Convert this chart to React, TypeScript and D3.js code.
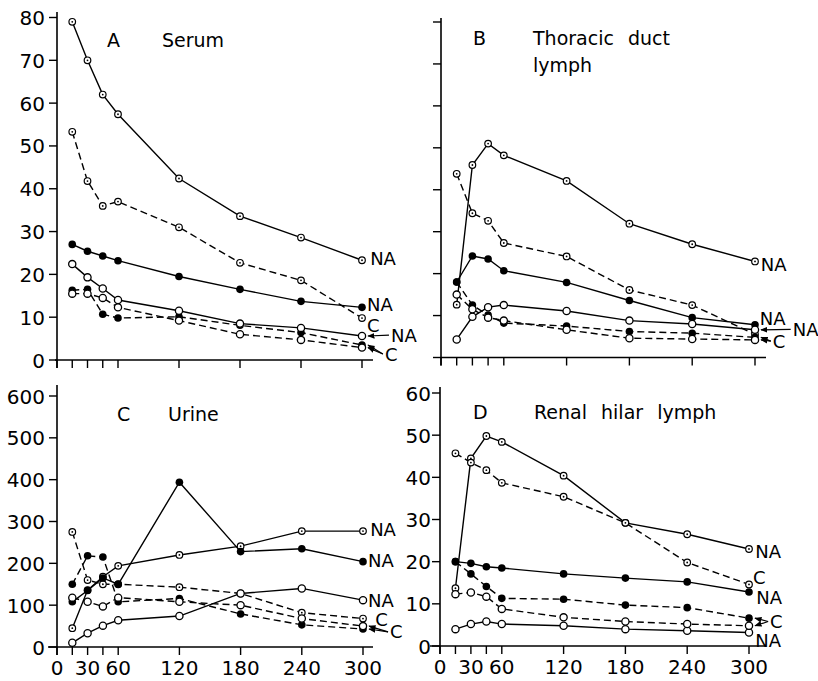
import React from 'react';
import * as d3 from 'd3';

const minutes = [15, 30, 45, 60, 120, 180, 240, 300];
const xTickValues = [0, 15, 30, 45, 60, 120, 180, 240, 300];
const xTickLabels = [0, 30, 60, 120, 180, 240, 300];

// A  Serum
const serumNA1 = [79, 70, 62, 57.4, 42.4, 33.6, 28.6, 23.3];
const serumC1 = [53.3, 41.8, 36, 37, 31, 22.7, 18.6, 9.8];
const serumNA2 = [27, 25.4, 24.3, 23.2, 19.5, 16.5, 13.7, 12.3];
const serumC2 = [16.3, 16.5, 10.7, 9.8, 10.1, 8.1, 6.4, 3.5];
const serumNA3 = [22.4, 19.3, 16.7, 14, 11.5, 8.5, 7.5, 5.6];
const serumC3 = [15.5, 15.5, 14.5, 12.3, 9.2, 6, 4.7, 2.9];

// B  Thoracic duct lymph
const tdNA1 = [12.6, 45.9, 51, 48.2, 42.1, 31.9, 27, 22.9];
const tdC1 = [43.8, 34.4, 32.6, 27.3, 24.1, 16.1, 12.5, 5.5];
const tdNA2 = [18, 24.2, 23.5, 20.7, 17.9, 13.6, 9.5, 7.8];
const tdC2 = [18, 12.5, 10.1, 8.2, 7.5, 6.2, 5.8, 4.8];
const tdNA3 = [4.3, 9.7, 12.0, 12.5, 11.1, 8.8, 8.0, 6.6];
const tdC3 = [15, 11.5, 9.5, 8.8, 6.6, 4.6, 4.4, 4.2];

// C  Urine
const urineNA1 = [45, 136, 168, 194, 220, 241, 277, 277];
const urineC1 = [275, 160, 150, 150, 143, 128, 82, 68];
const urineNA2 = [108, 135, 165, 150, 394, 228, 235, 204];
const urineC2 = [150, 218, 215, 108, 116, 79, 53, 43];
const urineNA3 = [10, 33, 51, 64, 74, 128, 140, 112];
const urineC3 = [118, 108, 97, 118, 108, 100, 68, 50];

// D  Renal hilar lymph
const rhNA1 = [13.7, 44.5, 49.8, 48.4, 40.4, 29.2, 26.5, 23];
const rhC1 = [45.7, 43.5, 41.7, 38.7, 35.4, 29.2, 19.8, 14.6];
const rhNA2 = [20, 19.6, 18.8, 18.5, 17.1, 16.1, 15.2, 12.8];
const rhC2 = [20, 17.1, 14.1, 11.3, 11.1, 9.7, 9.1, 6.6];
const rhNA3 = [4.0, 5.2, 5.8, 5.2, 4.8, 4.0, 3.6, 3.2];
const rhC3 = [12.3, 12.7, 11.7, 8.8, 6.8, 5.8, 5.2, 4.8];

type Marker = 'dot' | 'filled' | 'open';
const seriesStyles: { dashed: boolean; marker: Marker }[] = [
  { dashed: false, marker: 'dot' },
  { dashed: true, marker: 'dot' },
  { dashed: false, marker: 'filled' },
  { dashed: true, marker: 'filled' },
  { dashed: false, marker: 'open' },
  { dashed: true, marker: 'open' },
];

type Label = { text: string; x: number; y: number; arrows?: number[] };

const panels = [
  {
    id: 'A', letter: 'A', title: ['Serum'], letterX: 107, titleX: 162, titleY: 47,
    data: [serumNA1, serumC1, serumNA2, serumC2, serumNA3, serumC3],
    yMax: 80, yStep: 10, xr: [57, 362], yr: [360, 17.5], yTop: 12, xStart: 55, xEnd: 373,
    yLabels: true, yLabelX: 45, xLabels: false,
    labels: [
      { text: 'NA', x: 308, y: 23.6 },
      { text: 'NA', x: 305, y: 12.9 },
      { text: 'C', x: 305, y: 8.1 },
      { text: 'NA', x: 328.5, y: 5.8, arrows: [4] },
      { text: 'C', x: 322.5, y: 1.4, arrows: [3, 5] },
    ] as Label[],
  },
  {
    id: 'B', letter: 'B', title: ['Thoracic duct', 'lymph'], letterX: 473, titleX: 533, titleY: 45,
    data: [tdNA1, tdC1, tdNA2, tdC2, tdNA3, tdC3],
    yMax: 80, yStep: 10, xr: [441, 755], yr: [357.5, 22], yTop: 18, xStart: 441, xEnd: 766,
    yLabels: false, yLabelX: 430, xLabels: false,
    labels: [
      { text: 'NA', x: 305.5, y: 22.2 },
      { text: 'NA', x: 304.5, y: 9.3 },
      { text: 'NA', x: 336, y: 6.7, arrows: [4] },
      { text: 'C', x: 317, y: 3.9, arrows: [3, 5] },
    ] as Label[],
  },
  {
    id: 'C', letter: 'C', title: ['Urine'], letterX: 117, titleX: 168, titleY: 421,
    data: [urineNA1, urineC1, urineNA2, urineC2, urineNA3, urineC3],
    yMax: 600, yStep: 100, xr: [57, 363], yr: [647, 396], yTop: 385, xStart: 48, xEnd: 373,
    yLabels: true, yLabelX: 45, xLabels: true,
    labels: [
      { text: 'NA', x: 307, y: 280 },
      { text: 'NA', x: 305, y: 207 },
      { text: 'NA', x: 305, y: 112 },
      { text: 'C', x: 312, y: 66 },
      { text: 'C', x: 326.5, y: 36, arrows: [3, 5] },
    ] as Label[],
  },
  {
    id: 'D', letter: 'D', title: ['Renal hilar lymph'], letterX: 473, titleX: 534, titleY: 419,
    data: [rhNA1, rhC1, rhNA2, rhC2, rhNA3, rhC3],
    yMax: 60, yStep: 10, xr: [440, 749], yr: [646, 393], yTop: 387, xStart: 430, xEnd: 766,
    yLabels: true, yLabelX: 431, xLabels: true,
    labels: [
      { text: 'NA', x: 306, y: 22.4 },
      { text: 'C', x: 304, y: 16.2 },
      { text: 'NA', x: 307, y: 11.6 },
      { text: 'C', x: 320.5, y: 5.8, arrows: [3, 5] },
      { text: 'NA', x: 306, y: 1.4 },
    ] as Label[],
  },
];

const FONT = 'DejaVu Sans, Liberation Sans, sans-serif';

function PointMarker({ cx, cy, type }: { cx: number; cy: number; type: Marker }) {
  if (type === 'filled') return <circle cx={cx} cy={cy} r={3.8} fill="#000" />;
  if (type === 'open')
    return <circle cx={cx} cy={cy} r={3.6} fill="#fff" stroke="#000" strokeWidth={1.3} />;
  return (
    <g>
      <circle cx={cx} cy={cy} r={3.3} fill="#fff" stroke="#000" strokeWidth={1.2} />
      <circle cx={cx} cy={cy} r={0.9} fill="#000" />
    </g>
  );
}

function Panel({ p }: { p: (typeof panels)[number] }) {
  const x = d3.scaleLinear().domain([0, 300]).range(p.xr);
  const y = d3.scaleLinear().domain([0, p.yMax]).range(p.yr);
  const yTicks = d3.range(0, p.yMax + 0.001, p.yStep);
  const line = d3
    .line<number>()
    .x((_, i) => x(minutes[i]))
    .y((v) => y(v));
  const y0 = y(0);
  const x0 = x(0);
  return (
    <g>
      {/* axes */}
      <line x1={x0} x2={x0} y1={p.yTop} y2={y0 + 8} stroke="#000" strokeWidth={1.6} />
      <line x1={p.xStart} x2={p.xEnd} y1={y0} y2={y0} stroke="#000" strokeWidth={1.6} />
      {yTicks.map((t) => (
        <g key={'yt' + t}>
          <line x1={x0 - 8} x2={x0} y1={y(t)} y2={y(t)} stroke="#000" strokeWidth={1.4} />
          {p.yLabels && (
            <text x={p.yLabelX} y={y(t) + 7.5} textAnchor="end" fontSize={20} fontFamily={FONT}>
              {t}
            </text>
          )}
        </g>
      ))}
      {xTickValues.map((t) => (
        <line key={'xt' + t} x1={x(t)} x2={x(t)} y1={y0} y2={y0 + 8} stroke="#000" strokeWidth={1.4} />
      ))}
      {p.xLabels &&
        xTickLabels.map((t) => (
          <text key={'xl' + t} x={x(t)} y={y0 + 28} textAnchor="middle" fontSize={20} fontFamily={FONT}>
            {t}
          </text>
        ))}
      {/* title */}
      <text x={p.letterX} y={p.titleY} fontSize={19} fontFamily={FONT}>
        {p.letter}
      </text>
      {p.title.map((tl, i) => (
        <text key={tl} x={p.titleX} y={p.titleY + i * 27} fontSize={19} fontFamily={FONT} wordSpacing={8}>
          {tl}
        </text>
      ))}
      {/* lines */}
      {p.data.map((vals, si) => (
        <path
          key={'l' + si}
          d={line(vals) || ''}
          fill="none"
          stroke="#000"
          strokeWidth={1.4}
          strokeDasharray={seriesStyles[si].dashed ? '7,4' : undefined}
        />
      ))}
      {/* markers */}
      {p.data.map((vals, si) =>
        vals.map((v, i) => (
          <PointMarker key={'m' + si + '-' + i} cx={x(minutes[i])} cy={y(v)} type={seriesStyles[si].marker} />
        ))
      )}
      {/* labels */}
      {p.labels.map((lb, li) => (
        <g key={'lb' + li}>
          <text x={x(lb.x)} y={y(lb.y) + 6.5} fontSize={18} fontFamily={FONT}>
            {lb.text}
          </text>
          {(lb.arrows || []).map((si) => {
            const px = x(300) + 6;
            const py = y(p.data[si][7]);
            const sx = x(lb.x) - 2;
            const sy = y(lb.y);
            return (
              <line
                key={'ar' + si}
                x1={sx}
                y1={sy}
                x2={px}
                y2={py}
                stroke="#000"
                strokeWidth={1.2}
                markerEnd="url(#arrowHead)"
              />
            );
          })}
        </g>
      ))}
    </g>
  );
}

export default function App() {
  return (
    <svg width={818} height={681} style={{ position: 'absolute', left: 0, top: 0, background: '#fff' }}>
      <defs>
        <marker id="arrowHead" viewBox="0 0 10 10" refX={9} refY={5} markerWidth={6} markerHeight={6} orient="auto">
          <path d="M0,1 L10,5 L0,9 z" fill="#000" />
        </marker>
      </defs>
      <rect x={0} y={0} width={818} height={681} fill="#fff" />
      {panels.map((p) => (
        <Panel key={p.id} p={p} />
      ))}
    </svg>
  );
}
